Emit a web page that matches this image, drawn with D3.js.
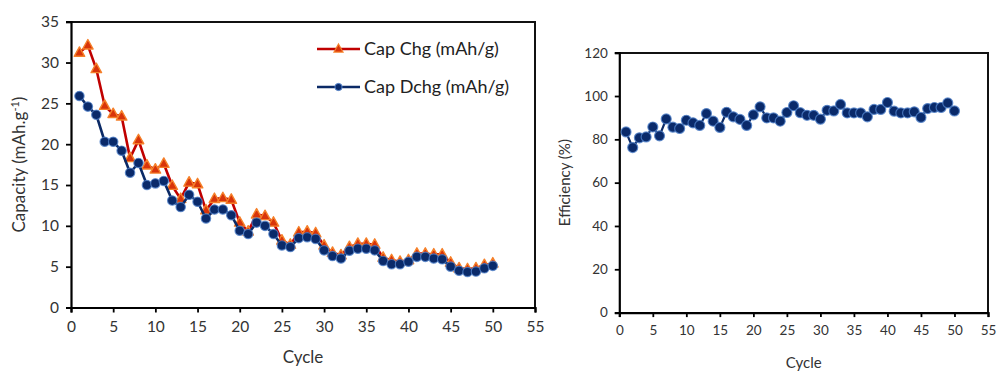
<!DOCTYPE html>
<html>
<head>
<meta charset="utf-8">
<script src="https://cdn.jsdelivr.net/npm/d3@7"></script>
<style>
  html, body { margin: 0; padding: 0; background: #fff; }
  svg { display: block; font-family: Lato, "Open Sans", sans-serif; }
</style>
</head>
<body>
<svg id="chart" width="1000" height="372"></svg>
<script>
// Cycle numbers 1..50
const cycles = [1,2,3,4,5,6,7,8,9,10,11,12,13,14,15,16,17,18,19,20,21,22,23,24,25,
                26,27,28,29,30,31,32,33,34,35,36,37,38,39,40,41,42,43,44,45,46,47,48,49,50];

// Charge capacity (mAh/g)
const capChg = [31.2,32.1,29.2,24.7,23.7,23.4,18.3,20.5,17.4,16.9,17.6,14.9,13.3,15.3,15.1,
                11.9,13.3,13.4,13.2,10.4,9.3,11.4,11.2,10.4,8.2,7.7,9.2,9.3,9.1,7.6,
                6.7,6.4,7.4,7.8,7.8,7.7,6.1,5.8,5.6,5.8,6.6,6.6,6.5,6.5,5.5,4.8,4.7,4.8,5.2,5.4];

// Discharge capacity (mAh/g)
const capDchg = [25.9,24.6,23.6,20.3,20.3,19.2,16.5,17.7,15.0,15.2,15.5,13.1,12.3,13.8,12.95,
                 10.9,12.0,12.0,11.3,9.4,9.0,10.4,10.0,9.0,7.6,7.4,8.5,8.6,8.4,7.0,
                 6.3,6.0,6.95,7.2,7.2,7.0,5.7,5.3,5.3,5.6,6.2,6.2,6.0,5.9,5.0,4.5,4.35,4.4,4.8,5.1];

// Coulombic efficiency (%)
const efficiency = [83.4,76.2,80.7,81.1,85.7,81.6,89.4,85.6,85.0,88.8,87.6,86.4,91.9,88.4,85.5,
                    92.5,90.4,89.2,86.4,91.3,95.0,89.9,89.9,88.4,92.4,95.5,92.3,91.1,91.1,89.3,
                    93.4,93.1,96.1,92.2,92.2,92.2,90.4,93.8,93.8,97.0,93.0,92.2,92.2,92.7,90.1,
                    94.2,94.7,94.7,96.8,93.1];

// Axis ticks
const xTicks = [0,5,10,15,20,25,30,35,40,45,50,55];
const capTicks = [0,5,10,15,20,25,30,35];
const effTicks = [0,20,40,60,80,100,120];

const seriesNames = ["Cap Chg (mAh/g)", "Cap Dchg (mAh/g)"];

const svg = d3.select("#chart");
const textColor = "#333333";

const RED_LINE = "#c00000", RED_FILL = "#d8340a", RED_EDGE = "#f5802a";
const BLUE_LINE = "#0b2a66", BLUE_FILL = "#0a2a6a", BLUE_EDGE = "#4f7fc8";

function drawAxes(g, x, y, yTicks, fontSize, tickLen) {
  const x0 = x.range()[0];
  const y0 = y.range()[0];
  const xa = g.append("g").attr("transform", `translate(0,${y0})`)
    .call(d3.axisBottom(x).tickValues(xTicks).tickSize(tickLen).tickPadding(8).tickFormat(d3.format("d")));
  const ya = g.append("g").attr("transform", `translate(${x0},0)`)
    .call(d3.axisLeft(y).tickValues(yTicks).tickSize(tickLen).tickPadding(7).tickFormat(d3.format("d")));
  [xa, ya].forEach(a => {
    a.select(".domain").attr("stroke", "#000").attr("stroke-width", 2.2);
    a.selectAll(".tick line").attr("stroke", "#000").attr("stroke-width", 1.8);
    a.selectAll(".tick text").attr("fill", textColor)
      .style("font-size", fontSize + "px").style("font-family", "Lato, sans-serif");
  });
}

// top and right edges of the plot box, snapped to whole pixels
function drawBox(g, x, y, width, color) {
  const x0 = Math.round(x.range()[0]), x1 = Math.round(x.range()[1]);
  const yb = Math.round(y.range()[0]), yt = Math.round(y.range()[1]);
  g.append("path")
    .attr("d", `M${x0},${yt}H${x1}V${yb}`)
    .attr("fill", "none")
    .attr("stroke", color)
    .attr("stroke-width", width)
    .attr("shape-rendering", "crispEdges");
}

function triangle(sel, size) {
  const h = size * 0.9;
  sel.attr("d", `M0,${-h * 0.62}L${size / 2},${h * 0.38}L${-size / 2},${h * 0.38}Z`);
}

// ---------- Capacity chart ----------
{
  const x = d3.scaleLinear().domain([0, 55]).range([71, 535]);
  const y = d3.scaleLinear().domain([0, 35]).range([307.5, 21.7]);
  const g = svg.append("g");
  drawBox(g, x, y, 2, "#111");
  drawAxes(g, x, y, capTicks, 15.5, 5);

  const line = d3.line().x((d, i) => x(cycles[i])).y(d => y(d));

  // charge series
  g.append("path").datum(capChg).attr("d", line)
    .attr("fill", "none").attr("stroke", RED_LINE).attr("stroke-width", 2.6);
  g.selectAll(".tri").data(capChg).join("path")
    .attr("class", "tri")
    .call(triangle, 10.5)
    .attr("transform", (d, i) => `translate(${x(cycles[i])},${y(d)})`)
    .attr("fill", RED_FILL).attr("stroke", RED_EDGE).attr("stroke-width", 1.4)
    .attr("stroke-linejoin", "round");

  // discharge series
  g.append("path").datum(capDchg).attr("d", line)
    .attr("fill", "none").attr("stroke", BLUE_LINE).attr("stroke-width", 2.6);
  g.selectAll(".dot").data(capDchg).join("circle")
    .attr("class", "dot")
    .attr("cx", (d, i) => x(cycles[i])).attr("cy", d => y(d)).attr("r", 4.7)
    .attr("fill", BLUE_FILL).attr("stroke", BLUE_EDGE).attr("stroke-width", 1.2)
    .attr("stroke-opacity", 0.8);

  // legend
  const lg = g.append("g");
  const rows = [
    { name: seriesNames[0], y: 49, color: RED_LINE, marker: "tri" },
    { name: seriesNames[1], y: 87, color: BLUE_LINE, marker: "dot" }
  ];
  rows.forEach(r => {
    lg.append("line").attr("x1", 317).attr("x2", 360).attr("y1", r.y).attr("y2", r.y)
      .attr("stroke", r.color).attr("stroke-width", 2.6);
    if (r.marker === "tri") {
      lg.append("path").call(triangle, 9).attr("transform", `translate(338.5,${r.y})`)
        .attr("fill", RED_FILL).attr("stroke", RED_EDGE).attr("stroke-width", 1.2);
    } else {
      lg.append("circle").attr("cx", 338.5).attr("cy", r.y).attr("r", 3.6)
        .attr("fill", BLUE_FILL).attr("stroke", BLUE_EDGE).attr("stroke-width", 1);
    }
    lg.append("text").attr("x", 364).attr("y", r.y + 6)
      .attr("fill", "#222").style("font-size", "18px").text(r.name);
  });

  // axis titles
  g.append("text").attr("x", x(27.5)).attr("y", 363).attr("text-anchor", "middle")
    .attr("fill", textColor).style("font-size", "17px").text("Cycle");
  const yt = g.append("text").attr("transform", `translate(25,${y(17.5)}) rotate(-90)`)
    .attr("text-anchor", "middle").attr("fill", textColor).style("font-size", "17px");
  yt.append("tspan").text("Capacity (mAh.g");
  yt.append("tspan").attr("dy", -6).style("font-size", "11px").text("-1");
  yt.append("tspan").attr("dy", 6).text(")");
}

// ---------- Efficiency chart ----------
{
  const x = d3.scaleLinear().domain([0, 55]).range([619.3, 988]);
  const y = d3.scaleLinear().domain([0, 120]).range([312.6, 52.7]);
  const g = svg.append("g");
  drawBox(g, x, y, 2, "#111");
  drawAxes(g, x, y, effTicks, 13.5, 4.5);

  const line = d3.line().x((d, i) => x(cycles[i])).y(d => y(d));
  g.append("path").datum(efficiency).attr("d", line)
    .attr("fill", "none").attr("stroke", BLUE_LINE).attr("stroke-width", 2.2);
  g.selectAll(".dot").data(efficiency).join("circle")
    .attr("class", "dot")
    .attr("cx", (d, i) => x(cycles[i])).attr("cy", d => y(d)).attr("r", 5)
    .attr("fill", BLUE_FILL).attr("stroke", BLUE_EDGE).attr("stroke-width", 1.2)
    .attr("stroke-opacity", 0.8);

  g.append("text").attr("x", x(27.5)).attr("y", 368).attr("text-anchor", "middle")
    .attr("fill", textColor).style("font-size", "15px").text("Cycle");
  g.append("text").attr("transform", `translate(570,${y(60)}) rotate(-90)`)
    .attr("text-anchor", "middle").attr("fill", textColor).style("font-size", "15px")
    .text("Efficiency (%)");
}
</script>
</body>
</html>
